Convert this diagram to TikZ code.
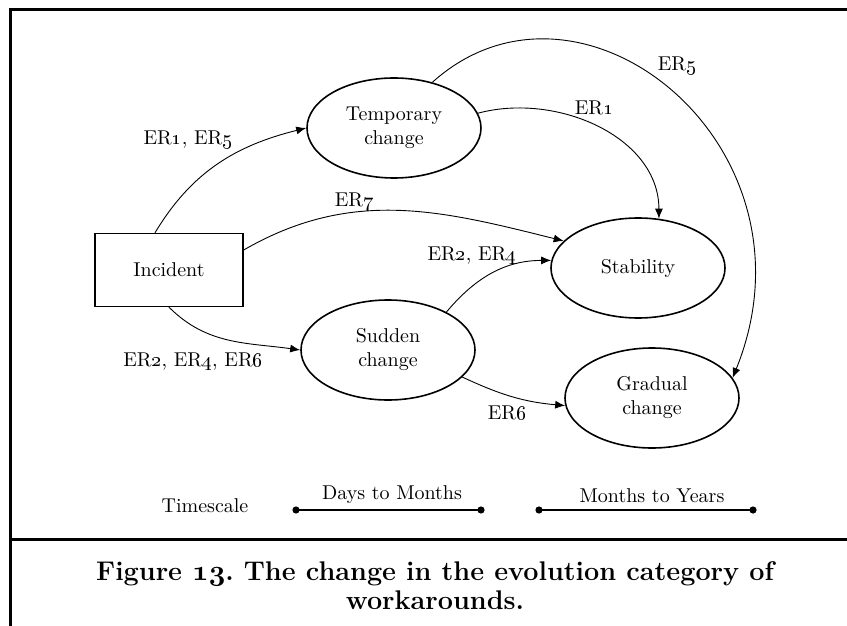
\documentclass[tikz,border=0pt]{standalone}
\usetikzlibrary{arrows.meta,shapes.geometric}
\newcommand{\ER}[1]{ER\oldstylenums{#1}}
\newcommand{\bfnums}[1]{{\fontencoding{OML}\fontfamily{cmm}\fontseries{b}\fontshape{it}\selectfont #1}}

\begin{document}
\begin{tikzpicture}[x=0.5pt, y=-0.5pt,
		state/.style={draw, ellipse, line width=0.8pt, minimum width=87pt, minimum height=50pt, inner sep=0pt, align=center},
		flow/.style={-{Latex[length=5pt,width=4pt]}, line width=0.45pt},
		lbl/.style={inner sep=0pt},
		timeline/.style={line width=0.8pt}]
			%%%%% START %%%%%
			
			\useasboundingbox (0, 0) rectangle (847, 626);
			\draw[line width=1.5pt] (847, 10) -- (10, 10) -- (10, 626);
			\draw[line width=1.5pt] (10, 539) -- (847, 539);
			
			\node[draw, line width=0.7pt, minimum width=74pt, minimum height=36.5pt, inner sep=0pt] (inc) at (169, 270) {Incident};
			\node[state] (tmp) at (394, 128) {Temporary\\change};
			\node[state] (stb) at (638, 268) {Stability};
			\node[state] (sud) at (388, 350) {Sudden\\change};
			\node[state] (grd) at (652, 398) {Gradual\\change};
			
			\draw[flow] ([xshift=-7pt]inc.north) to[out=59, in=194] (tmp.west);
			\draw[flow] ([yshift=10pt]inc.east) to[out=30, in=166] (stb.160);
			\draw[flow] (inc.south) to[out=-45, in=172] (sud.west);
			\draw[flow] (tmp.10) to[out=15, in=90] (stb.67);
			\draw[flow] (tmp.50) to[out=42, in=68, out distance=100pt, in distance=125pt] (grd.14);
			\draw[flow] (sud.33) to[out=50, in=180] (stb.175);
			\draw[flow] (sud.-20) to[out=-25, in=175] (grd.185);
			
			\node[lbl] (l15) at (188, 140) {\ER{1}, \ER{5}};
			\node[lbl] (l7) at (354, 202) {\ER{7}};
			\node[lbl] (l5) at (677, 66) {\ER{5}};
			\node[lbl] (l1) at (594, 108) {\ER{1}};
			\node[lbl] (l24) at (472, 256) {\ER{2}, \ER{4}};
			\node[lbl] (l246) at (193, 362) {\ER{2}, \ER{4}, \ER{6}};
			\node[lbl] (l6) at (507, 413) {\ER{6}};
			
			% timescale
			\node[lbl] (ts) at (205, 506) {Timescale};
			\coordinate (dm0) at (296, 510);
			\coordinate (dm1) at (481, 510);
			\coordinate (my0) at (539, 510);
			\coordinate (my1) at (753, 510);
			\draw[timeline] (dm0) -- (dm1);
			\draw[timeline] (my0) -- (my1);
			\foreach \p in {dm0, dm1, my0, my1}
				\fill (\p) circle (1.8pt);
			\node[lbl] (dm) at (392, 495) {Days to Months};
			\node[lbl] (my) at (652, 496) {Months to Years};
			
			\node[align=center, font=\bfseries\fontsize{13.5}{14.5}\selectfont] (cap) at (435, 586) {Figure \bfnums{13}.\ The change in the evolution category of\\workarounds.};
			
			%%%%% END %%%%%
\end{tikzpicture}
\end{document}
